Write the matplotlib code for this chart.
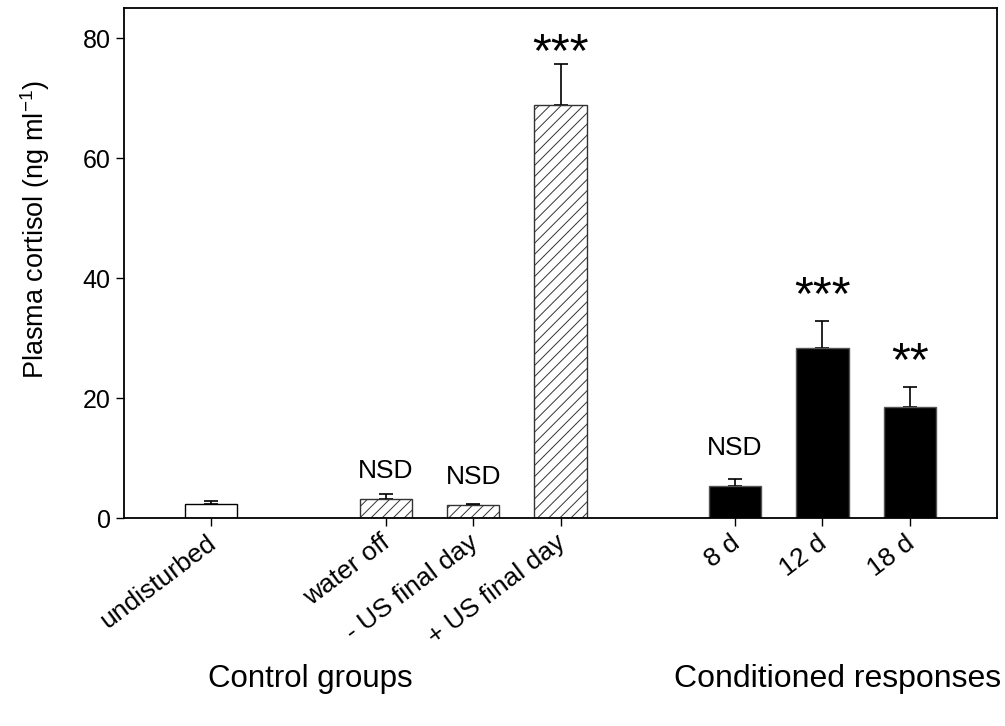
import matplotlib
matplotlib.use("Agg")
import matplotlib.pyplot as plt
import matplotlib.transforms as mtransforms

plt.rcParams['font.family'] = ['Liberation Sans', 'DejaVu Sans']
plt.rcParams['mathtext.fontset'] = 'custom'
plt.rcParams['mathtext.rm'] = 'Liberation Sans'
plt.rcParams['hatch.linewidth'] = 0.7

# data
groups = ['undisturbed', 'water off', '- US final day', '+ US final day', '8 d', '12 d', '18 d']
slots = [0, 2, 3, 4, 6, 7, 8]
cortisol = [2.4, 3.2, 2.1, 68.8, 5.4, 28.4, 18.5]
sem = [0.5, 0.8, 0.3, 6.8, 1.1, 4.5, 3.4]
marks = ['', 'NSD', 'NSD', '***', 'NSD', '***', '**']
mark_y = [0, 6.7, 5.7, 75.3, 10.5, 34.8, 23.8]
kind = ['open', 'hatch', 'hatch', 'hatch', 'solid', 'solid', 'solid']

fig = plt.figure(figsize=(10.05, 7.26), dpi=100)
ax = fig.add_axes([124 / 1005, 208 / 726, 873 / 1005, 510 / 726])

for x, m, e, k in zip(slots, cortisol, sem, kind):
    if k == 'open':
        ax.bar(x, m, width=0.6, color='white', edgecolor='black', linewidth=1.0, zorder=2)
    elif k == 'hatch':
        ax.bar(x, m, width=0.6, color='white', edgecolor='#333333', hatch='///',
               linewidth=1.0, zorder=2)
    else:
        ax.bar(x, m, width=0.6, color='black', edgecolor='#555555', linewidth=1.0, zorder=2)
    ax.errorbar(x, m, yerr=[[0], [e]], fmt='none', ecolor='black', elinewidth=1.2,
                capsize=5, capthick=1.2, zorder=1)

for x, t, y in zip(slots, marks, mark_y):
    if not t:
        continue
    if t.startswith('*'):
        ax.text(x, y, t, ha='center', va='baseline', fontsize=35)
    else:
        ax.text(x, y, t, ha='center', va='baseline', fontsize=19)

ax.set_xlim(-1, 9)
ax.set_ylim(0, 85)
ax.set_yticks([0, 20, 40, 60, 80])
ax.set_xticks(slots)
ax.tick_params(axis='both', direction='out', length=6, width=1.0, labelsize=18)
ax.tick_params(axis='x', labelsize=19, pad=3)
for sp in ax.spines.values():
    sp.set_linewidth(1.3)

# rotated labels sit a little right of their ticks in the original
labels = ax.set_xticklabels(groups, rotation=37, ha='right', fontsize=19)
shift = mtransforms.ScaledTranslation(9 / 100, 0, fig.dpi_scale_trans)
for lb in labels:
    lb.set_transform(lb.get_transform() + shift)

fig.text(35 / 1005, (726 - 230) / 726, r'Plasma cortisol (ng ml$^{\mathregular{-1}}$)',
         rotation=90, ha='center', va='center', fontsize=19.5)
fig.text(310 / 1005, 39 / 726, 'Control groups', ha='center', va='baseline', fontsize=22.5)
fig.text(838 / 1005, 39 / 726, 'Conditioned responses', ha='center', va='baseline', fontsize=23)

fig.savefig('out.png', dpi=100)
